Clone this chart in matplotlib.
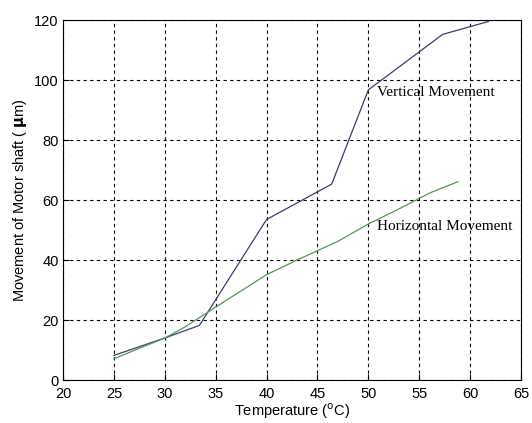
import matplotlib
matplotlib.use("Agg")
import matplotlib.pyplot as plt

# Data
vert_temp = [25, 30, 33.4, 40, 46.4, 50, 57.3, 59.8, 61.8]
vert_move = [8.2, 14, 18.2, 53.5, 65.3, 96.7, 115.2, 117.6, 119.5]
horiz_temp = [25, 30, 32, 35, 40, 43, 47, 50, 53, 56, 58.8]
horiz_move = [7.1, 14, 17.7, 24.3, 35.1, 40, 46.2, 52, 57, 62.3, 66.1]
xticks = [20, 25, 30, 35, 40, 45, 50, 55, 60, 65]
yticks = [0, 20, 40, 60, 80, 100, 120]

plt.rcParams['font.family'] = ['Liberation Sans', 'DejaVu Sans']

fig = plt.figure(figsize=(5.32, 4.23), dpi=100)
ax = fig.add_axes([63/532, 1-380/423, (521-63)/532, (380-20)/423])

ax.plot(vert_temp, vert_move, color='#3c3c6e', lw=0.9)
ax.plot(horiz_temp, horiz_move, color='#4f9a4f', lw=0.9)

ax.set_xlim(20, 65)
ax.set_ylim(0, 120)
ax.set_xticks(xticks)
ax.set_yticks(yticks)
ax.tick_params(direction='in', length=4, labelsize=10.5, width=0.8,
               top=False, right=False)
ax.tick_params(axis='x', pad=5)
ax.tick_params(axis='y', pad=3)
ax.grid(True, color='black', linestyle=(0, (3, 3)), linewidth=0.8)
for s in ax.spines.values():
    s.set_linewidth(0.8)

ax.set_xlabel('Temperature ($^{\\mathrm{o}}$C)', fontsize=10.5, labelpad=0)
ax.set_ylabel('Movement of Motor shaft ( $\\mathbf{\\mu}$m)', fontsize=10.5, labelpad=4)

ax.text(50.9, 96, 'Vertical Movement', family='Liberation Serif', fontsize=11,
        va='center', ha='left')
ax.text(50.9, 51, 'Horizontal Movement', family='Liberation Serif', fontsize=11,
        va='center', ha='left')

fig.savefig('out.png', dpi=100)
